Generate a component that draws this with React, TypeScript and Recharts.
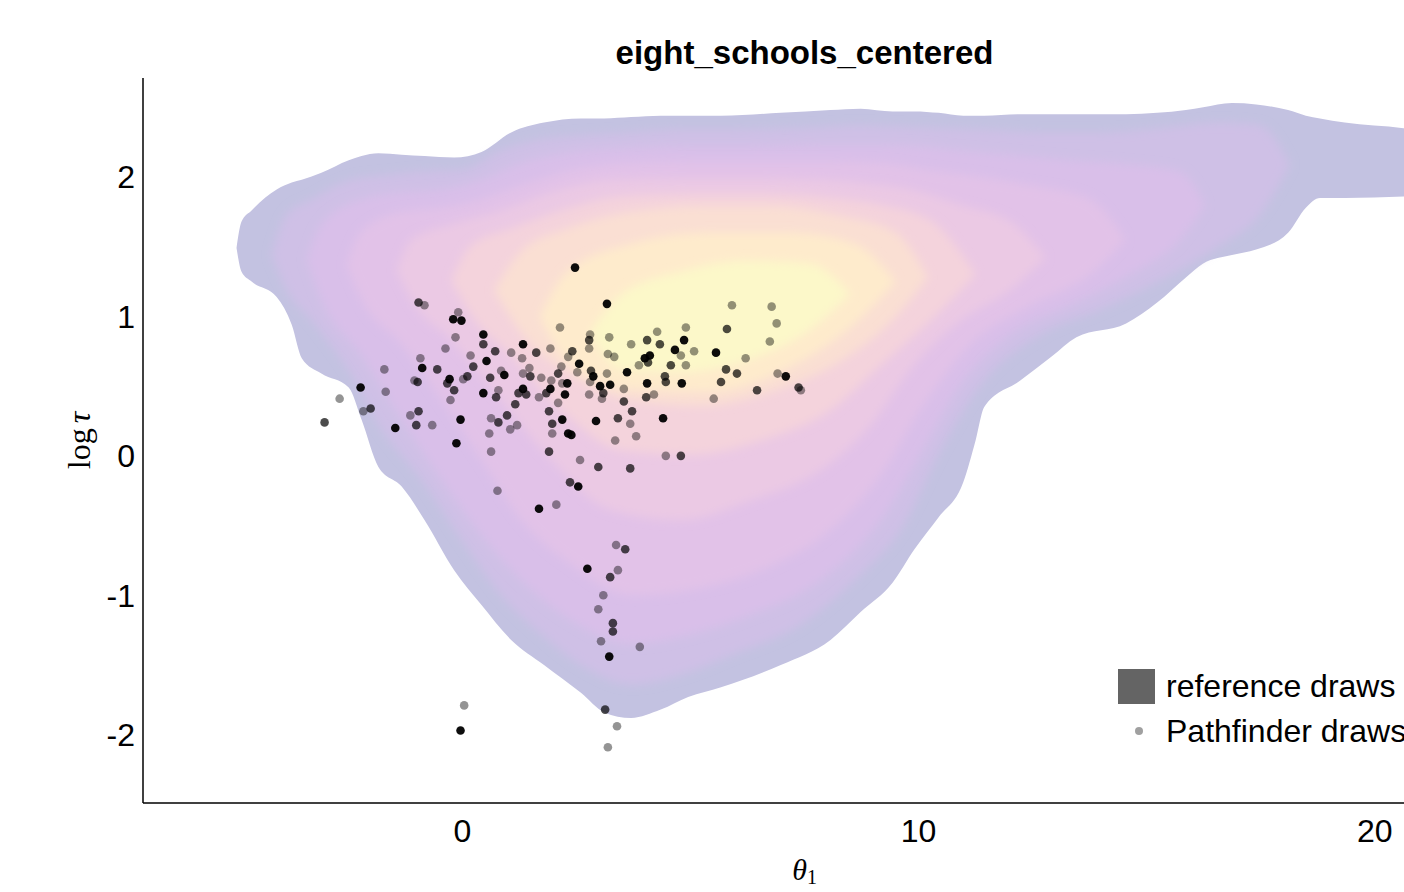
import { ComposedChart, Area, Scatter, XAxis, YAxis, Label } from "recharts";

const SANS = "'Liberation Sans', Arial, Helvetica, sans-serif";
const SERIF = "'Liberation Serif', 'DejaVu Serif', serif";

const xTicks = [0, 10, 20];
const yTicks = [-2, -1, 0, 1, 2];

// density bands of the reference draws, outer -> inner: [theta1, low logtau, high logtau]
const band0: [number, number, number][] = [
  [-4.95, 1.49, 1.49], [-4.84, 1.32, 1.68], [-4.62, 1.25, 1.76], [-4.07, 1.14, 1.91],
  [-3.74, 0.94, 1.96], [-3.52, 0.7, 1.98], [-3.09, 0.59, 2.03], [-2.49, 0.49, 2.12],
  [-2.21, 0.26, 2.15], [-1.84, -0.08, 2.17], [-1.33, -0.22, 2.16], [-0.83, -0.46, 2.15],
  [-0.18, -0.82, 2.14], [0.42, -1.07, 2.18], [1.07, -1.32, 2.32], [1.79, -1.5, 2.39],
  [2.6, -1.7, 2.42], [3.11, -1.84, 2.42], [3.7, -1.88, 2.43], [4.35, -1.82, 2.44],
  [4.95, -1.73, 2.44], [5.67, -1.66, 2.44], [6.98, -1.5, 2.46], [8.07, -1.32, 2.48],
  [8.73, -1.12, 2.49], [9.43, -0.91, 2.47], [9.91, -0.67, 2.47], [10.44, -0.44, 2.46],
  [10.98, -0.19, 2.44], [11.25, 0.11, 2.44], [11.44, 0.35, 2.44], [12.23, 0.54, 2.45],
  [12.91, 0.71, 2.45], [13.46, 0.85, 2.45], [14.55, 0.95, 2.45], [15.23, 1.1, 2.46],
  [15.86, 1.28, 2.48], [16.24, 1.38, 2.5], [16.87, 1.44, 2.53], [17.4, 1.48, 2.52],
  [18.1, 1.6, 2.48], [18.49, 1.78, 2.44], [18.8, 1.85, 2.42], [19.34, 1.85, 2.39],
  [20.63, 1.86, 2.35], [21.64, 1.87, 2.3],
];
const band1: [number, number, number][] = [
  [-4.18, 1.44, 1.44], [-3.85, 1.19, 1.73], [-3.3, 0.97, 1.84], [-2.43, 0.58, 1.98],
  [-1.77, 0.19, 2.01], [-0.9, -0.17, 2.04], [-0.02, -0.6, 2.05], [0.85, -1.0, 2.19],
  [1.73, -1.28, 2.27], [2.6, -1.5, 2.3], [3.7, -1.64, 2.32], [4.79, -1.57, 2.34],
  [5.89, -1.43, 2.34], [7.42, -1.21, 2.35], [8.73, -0.85, 2.37], [9.61, -0.53, 2.36],
  [10.48, 0.04, 2.35], [11.36, 0.51, 2.34], [12.67, 0.87, 2.32], [13.98, 1.05, 2.32],
  [15.3, 1.26, 2.35], [16.61, 1.51, 2.39], [17.48, 1.73, 2.37], [18.14, 2.09, 2.09],
];
const band2: [number, number, number][] = [
  [-3.41, 1.41, 1.41], [-3.09, 1.12, 1.66], [-2.21, 0.72, 1.84], [-1.33, 0.26, 1.89],
  [-0.46, -0.17, 1.91], [0.42, -0.57, 1.98], [1.29, -0.89, 2.1], [2.39, -1.18, 2.18],
  [3.7, -1.35, 2.21], [5.01, -1.28, 2.22], [6.32, -1.14, 2.22], [7.86, -0.89, 2.23],
  [9.17, -0.46, 2.23], [10.04, 0.01, 2.22], [10.92, 0.51, 2.19], [12.01, 0.87, 2.16],
  [13.33, 1.08, 2.12], [14.64, 1.3, 2.09], [15.73, 1.55, 2.04], [16.28, 1.8, 1.8],
];
const band3: [number, number, number][] = [
  [-2.54, 1.37, 1.37], [-2.21, 1.12, 1.61], [-1.33, 0.8, 1.75], [-0.46, 0.4, 1.78],
  [0.42, -0.03, 1.84], [1.29, -0.46, 1.94], [2.39, -0.78, 2.05], [3.7, -1.0, 2.1],
  [5.01, -0.96, 2.11], [6.54, -0.82, 2.11], [8.07, -0.53, 2.11], [9.17, -0.14, 2.1],
  [10.04, 0.33, 2.06], [11.14, 0.8, 2.01], [12.45, 1.08, 1.94], [13.76, 1.3, 1.84],
  [14.53, 1.55, 1.55],
];
const band4: [number, number, number][] = [
  [-1.44, 1.33, 1.33], [-1.12, 1.12, 1.55], [-0.24, 0.83, 1.66], [0.85, 0.4, 1.76],
  [1.95, -0.03, 1.89], [3.26, -0.39, 1.98], [4.79, -0.46, 1.99], [6.32, -0.32, 1.99],
  [7.86, -0.1, 1.98], [8.95, 0.22, 1.95], [9.82, 0.62, 1.91], [10.92, 0.97, 1.8],
  [12.01, 1.19, 1.68], [12.78, 1.42, 1.42],
];
const band5: [number, number, number][] = [
  [-0.24, 1.26, 1.26], [0.2, 1.01, 1.51], [1.07, 0.72, 1.63], [2.17, 0.33, 1.76],
  [3.48, 0.04, 1.86], [5.01, 0.01, 1.88], [6.54, 0.11, 1.88], [8.07, 0.33, 1.85],
  [9.17, 0.65, 1.8], [10.26, 0.97, 1.69], [11.25, 1.3, 1.3],
];
const band6: [number, number, number][] = [
  [0.7, 1.19, 1.19], [1.3, 0.88, 1.47], [2.3, 0.6, 1.63], [3.7, 0.4, 1.75],
  [5.23, 0.36, 1.79], [6.76, 0.46, 1.79], [8.29, 0.68, 1.72], [9.5, 1.0, 1.6],
  [10.2, 1.28, 1.28],
];
const band7: [number, number, number][] = [
  [1.7, 1.0, 1.0], [2.3, 0.68, 1.32], [3.7, 0.48, 1.52], [5.4, 0.46, 1.6],
  [7.2, 0.64, 1.6], [8.6, 0.95, 1.52], [9.5, 1.25, 1.25],
];
const band8: [number, number, number][] = [
  [2.8, 0.88, 0.88], [3.5, 0.62, 1.16], [4.79, 0.6, 1.32], [6.2, 0.68, 1.4],
  [7.6, 0.9, 1.38], [8.5, 1.16, 1.16],
];

const bands = [band0, band1, band2, band3, band4, band5, band6, band7, band8];
// plasma colormap, alpha 0.25 on white
const bandColors = [
  "#c3c2e1", "#cfc0e6", "#d9bfe9", "#e2c2e8", "#ebc9e4",
  "#f4d3dc", "#fadfd3", "#feebcc", "#fcf8c9",
];

// Pathfinder draws [theta1, logtau], grouped by how dark they are drawn
const grayDraws: [number, number][] = [
  [-0.83, 1.08], [-0.09, 1.03], [-0.15, 0.85], [-0.37, 0.77], [-0.92, 0.7], [0.18, 0.72],
  [1.07, 0.74], [1.93, 0.77], [1.31, 0.7], [1.47, 0.63], [0.85, 0.61], [-1.71, 0.62],
  [0.02, 0.55], [1.73, 0.56], [-1.05, 0.54], [-1.68, 0.46], [-2.69, 0.41], [-2.17, 0.32],
  [-1.14, 0.29], [-0.66, 0.22], [-0.26, 0.4], [0.79, 0.47], [0.63, 0.27], [1.2, 0.22],
  [1.05, 0.19], [0.59, 0.16], [0.63, 0.03], [0.77, -0.25], [1.68, 0.42], [1.33, 0.59],
  [1.97, 0.16], [5.91, 1.08], [6.78, 1.07], [6.89, 0.95], [2.14, 0.92], [4.9, 0.92],
  [6.74, 0.82], [4.27, 0.89], [2.8, 0.87], [3.22, 0.85], [3.7, 0.8], [2.78, 0.77],
  [5.08, 0.75], [6.21, 0.7], [3.19, 0.73], [3.33, 0.71], [2.32, 0.71], [2.17, 0.64],
  [4.79, 0.72], [4.9, 0.65], [3.87, 0.65], [6.91, 0.59], [2.52, 0.6], [3.17, 0.59],
  [7.42, 0.47], [1.95, 0.54], [2.19, 0.52], [2.8, 0.53], [2.78, 0.44], [3.06, 0.41],
  [3.54, 0.48], [4.2, 0.44], [5.51, 0.41], [2.1, 0.38], [3.68, 0.23], [3.81, 0.14],
  [3.35, 0.11], [2.58, -0.03], [4.46, 0.0], [2.06, -0.35], [3.37, -0.64], [3.41, -0.82],
  [3.09, -1.0], [2.98, -1.1], [3.04, -1.33], [3.89, -1.37], [3.39, -1.94], [3.19, -2.09],
  [0.04, -1.79],
];
const darkDraws: [number, number][] = [
  [-0.96, 1.1], [0.46, 0.8], [0.72, 0.75], [1.62, 0.74], [-0.55, 0.62], [0.24, 0.64],
  [-0.33, 0.52], [-0.18, 0.47], [0.11, 0.57], [0.61, 0.56], [1.49, 0.57], [-0.98, 0.53],
  [-2.01, 0.34], [-3.02, 0.24], [-0.96, 0.32], [-1.01, 0.22], [0.74, 0.42], [1.16, 0.37],
  [0.98, 0.29], [0.79, 0.24], [1.9, 0.03], [1.23, 0.45], [1.4, 0.44], [1.9, 0.32],
  [1.97, 0.23], [5.8, 0.91], [2.78, 0.83], [4.05, 0.83], [4.33, 0.8], [2.41, 0.75],
  [4.57, 0.65], [5.78, 0.62], [6.02, 0.59], [2.82, 0.61], [2.1, 0.59], [4.44, 0.57],
  [4.46, 0.53], [5.67, 0.53], [6.46, 0.47], [7.37, 0.49], [1.84, 0.45], [3.09, 0.45],
  [4.03, 0.42], [3.54, 0.39], [3.72, 0.32], [3.41, 0.27], [4.79, 0.0], [2.98, -0.08],
  [3.68, -0.09], [2.36, -0.19], [3.57, -0.67], [3.24, -0.87], [3.3, -1.2], [3.3, -1.26],
  [3.13, -1.82], [4.07, 0.67],
];
const blackDraws: [number, number][] = [
  [2.47, 1.35], [3.17, 1.09], [-0.2, 0.98], [-0.02, 0.97], [0.46, 0.87], [1.33, 0.8],
  [0.53, 0.68], [-0.88, 0.63], [0.92, 0.58], [-0.28, 0.55], [-2.23, 0.49], [-1.47, 0.2],
  [-0.04, 0.26], [0.46, 0.45], [-0.13, 0.09], [1.33, 0.48], [1.93, 0.48], [4.86, 0.83],
  [4.11, 0.72], [4.0, 0.7], [4.66, 0.76], [5.56, 0.74], [2.56, 0.66], [7.09, 0.57],
  [2.87, 0.57], [3.61, 0.6], [4.05, 0.52], [4.81, 0.52], [2.3, 0.52], [3.02, 0.5],
  [3.24, 0.51], [2.25, 0.44], [2.19, 0.26], [2.93, 0.25], [4.4, 0.27], [2.32, 0.16],
  [2.39, 0.15], [2.54, -0.22], [1.68, -0.38], [2.74, -0.81], [3.22, -1.44], [-0.04, -1.97],
];

const toRows = (band: [number, number, number][]) =>
  band.map(([x, lo, hi]) => ({ x, range: [lo, hi] }));
const toPoints = (pts: [number, number][]) => pts.map(([x, y]) => ({ x, y }));

const dot = (opacity: number) => (props: any) =>
  <circle cx={props.cx} cy={props.cy} r={4.3} fill="#000" fillOpacity={opacity} />;

const XLabel = (props: any) => {
  const { x, y, width } = props.viewBox;
  return (
    <text x={x + width / 2} y={y + 77} textAnchor="middle" fontFamily={SERIF} fontSize={30} fill="#000">
      <tspan fontStyle="italic">θ</tspan>
      <tspan fontSize={20} dy={4}>1</tspan>
    </text>
  );
};

const YLabel = (props: any) => {
  const { y, height } = props.viewBox;
  const cx = 90;
  const cy = y + height / 2;
  return (
    <text x={cx} y={cy} transform={`rotate(-90, ${cx}, ${cy})`} textAnchor="middle" fontFamily={SERIF} fontSize={32} fill="#000">
      log<tspan dx={5} fontStyle="italic">τ</tspan>
    </text>
  );
};

export default function App() {
  return (
    <div style={{ position: "absolute", left: 0, top: 0, width: 1404, height: 892, overflow: "hidden", background: "#fff" }}>
      {/* soft edges for the inner density levels */}
      <svg width={0} height={0} style={{ position: "absolute" }}>
        <defs>
          <filter id="bandBlur" x="-10%" y="-10%" width="120%" height="120%">
            <feGaussianBlur stdDeviation="5" />
          </filter>
        </defs>
      </svg>
      <div style={{ position: "absolute", left: 143, width: 1323, top: 36, textAlign: "center", fontFamily: SANS, fontWeight: "bold", fontSize: 33, lineHeight: "33px" }}>
        eight_schools_centered
      </div>
      <ComposedChart width={1500} height={892} margin={{ top: 78, right: 34, bottom: 0, left: 0 }}>
        <XAxis
          dataKey="x"
          type="number"
          domain={[-7, 22]}
          ticks={xTicks}
          allowDataOverflow
          tickLine={false}
          axisLine={{ stroke: "#000", strokeWidth: 1.5 }}
          height={89}
          tickMargin={10}
          tick={{ fill: "#000", fontSize: 32, fontFamily: SANS }}
        >
          <Label content={XLabel} />
        </XAxis>
        <YAxis
          type="number"
          domain={[-2.49, 2.71]}
          ticks={yTicks}
          allowDataOverflow
          tickLine={false}
          axisLine={{ stroke: "#000", strokeWidth: 1.5 }}
          width={143}
          tick={{ fill: "#000", fontSize: 32, fontFamily: SANS }}
        >
          <Label content={YLabel} />
        </YAxis>
        {bands.map((band, i) => (
          <Area
            key={`band-${i}`}
            data={toRows(band)}
            dataKey="range"
            type="monotone"
            stroke="none"
            fill={bandColors[i]}
            fillOpacity={1}
            filter={i > 0 ? "url(#bandBlur)" : undefined}
            dot={false}
            activeDot={false}
            isAnimationActive={false}
          />
        ))}
        <Scatter data={toPoints(grayDraws)} dataKey="y" shape={dot(0.42)} isAnimationActive={false} />
        <Scatter data={toPoints(darkDraws)} dataKey="y" shape={dot(0.7)} isAnimationActive={false} />
        <Scatter data={toPoints(blackDraws)} dataKey="y" shape={dot(0.95)} isAnimationActive={false} />
      </ComposedChart>
      <div style={{ position: "absolute", left: 1118, top: 669, width: 37, height: 35, background: "#646464" }} />
      <div style={{ position: "absolute", left: 1166, top: 670, fontFamily: SANS, fontSize: 32, lineHeight: "32px", whiteSpace: "nowrap" }}>
        reference draws
      </div>
      <div style={{ position: "absolute", left: 1135, top: 727, width: 8, height: 8, borderRadius: 4, background: "#a0a0a0" }} />
      <div style={{ position: "absolute", left: 1166, top: 715, fontFamily: SANS, fontSize: 32, lineHeight: "32px", whiteSpace: "nowrap" }}>
        Pathfinder draws
      </div>
    </div>
  );
}
